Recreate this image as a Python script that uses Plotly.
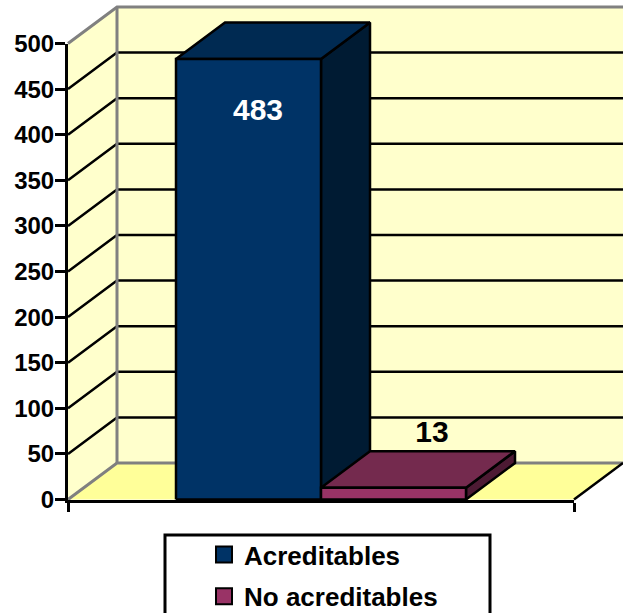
import plotly.graph_objects as go

# Data
categories = ["Acreditables", "No acreditables"]
values = [483, 13]
value_labels = ["483", "13"]
y_ticks = [0, 50, 100, 150, 200, 250, 300, 350, 400, 450, 500]

# Styling
W, H = 623, 613
PX_LEFT, PX_RIGHT, PX_ZERO, PX_TOP = 68, 574, 499.5, 43.5
sx = 1 / (PX_RIGHT - PX_LEFT)
sy = 500 / (PX_ZERO - PX_TOP)
DX = 49 * sx          # oblique depth, in axis units
DY = 36.5 * sy
BAR_START = 108 * sx
BAR_W = 145 * sx
front_colors = ["#003366", "#993366"]
top_colors = ["#002A52", "#742A4E"]
side_colors = ["#001B33", "#4D1A33"]
label_colors = ["white", "black"]
label_dx = [9.5 * sx, 38.5 * sx]
label_dy = [-58.5, 58.5]
FONT = "Liberation Sans"

fig = go.Figure()
xy = dict(xaxis="x", yaxis="y", hoverinfo="skip", showlegend=False)


def poly(xs, ys, fill, line="black", lw=2.5):
    fig.add_trace(go.Scatter(x=xs, y=ys, mode="lines", fill="toself", fillcolor=fill,
                             line=dict(color=line, width=lw), **xy))


def seg(xs, ys, color, lw):
    fig.add_trace(go.Scatter(x=xs, y=ys, mode="lines",
                             line=dict(color=color, width=lw), **xy))


ymax = y_ticks[-1]
# Walls and floor
poly([DX, 1 + DX, 1 + DX, DX, DX], [DY, DY, ymax + DY, ymax + DY, DY], "#FFFFCC", "#FFFFCC", 0)
poly([0, DX, DX, 0, 0], [0, DY, ymax + DY, ymax, 0], "#FFFFCC", "#FFFFCC", 0)
poly([0, 1, 1 + DX, DX, 0], [0, 0, DY, DY, 0], "#FFFF99", "#FFFF99", 0)

# Gridlines on the walls
for t in y_ticks[1:-1]:
    seg([0, DX, 1 + DX], [t, t + DY, t + DY], "black", 2.5)

# Wall edges
seg([0, DX, 1 + DX], [ymax, ymax + DY, ymax + DY], "#808080", 3)
seg([0, DX, 1 + DX], [0, DY, DY], "#808080", 3)
seg([DX, DX], [0 + DY, ymax + DY], "#808080", 3)
# Floor right edge
seg([1, 1 + DX], [0, DY], "black", 2.5)

# Bars
for i, v in enumerate(values):
    a = BAR_START + i * BAR_W
    b = a + BAR_W
    poly([b, b + DX, b + DX, b, b], [0, DY, v + DY, v, 0], side_colors[i])
    poly([a, b, b + DX, a + DX, a], [v, v, v + DY, v + DY, v], top_colors[i])
    poly([a, b, b, a, a], [0, 0, v, v, 0], front_colors[i])

# Value labels
for i, v in enumerate(values):
    a = BAR_START + i * BAR_W
    fig.add_trace(go.Scatter(
        x=[a + BAR_W / 2 + label_dx[i]], y=[v + label_dy[i]], mode="text",
        text=[value_labels[i]], textposition="middle center",
        textfont=dict(family=FONT, size=30, color=label_colors[i], weight="bold"), **xy))

# Axis subplot (drawn on top) with an empty trace
fig.add_trace(go.Scatter(x=[0, 1], y=[0, 500], mode="none", xaxis="x2", yaxis="y2",
                         hoverinfo="skip", showlegend=False))

# Legend entries
for i, name in enumerate(categories):
    fig.add_trace(go.Scatter(
        x=[None], y=[None], mode="markers", name=name, legendgroup=name,
        xaxis="x", yaxis="y",
        marker=dict(symbol="square", size=16, color=front_colors[i],
                    line=dict(color="black", width=2))))

fig.update_layout(
    width=W, height=H, margin=dict(l=0, r=0, t=0, b=0, autoexpand=False),
    paper_bgcolor="white", plot_bgcolor="rgba(0,0,0,0)",
    hovermode=False,
    xaxis=dict(domain=[0, 1], range=[-PX_LEFT * sx, (W - PX_LEFT) * sx], visible=False),
    yaxis=dict(domain=[0, 1], range=[-(H - PX_ZERO) * sy, PX_ZERO * sy], visible=False),
    xaxis2=dict(domain=[PX_LEFT / W, PX_RIGHT / W], range=[0, 1], anchor="y2",
                tickmode="array", tickvals=[0, 1], ticktext=["", ""], ticks="outside",
                ticklen=9, tickwidth=2.5, tickcolor="black", showgrid=False, zeroline=False,
                showline=True, linecolor="black", linewidth=3),
    yaxis2=dict(domain=[(H - PX_ZERO) / H, (H - PX_TOP) / H], range=[0, 500], anchor="x2",
                tickmode="array", tickvals=y_ticks, ticktext=[str(t) for t in y_ticks],
                ticks="outside", ticklen=10, tickwidth=2.5, tickcolor="black",
                ticklabelstandoff=-4,
                tickfont=dict(family=FONT, size=24, color="black", weight="bold"),
                showgrid=False, zeroline=False, showline=True, linecolor="black", linewidth=3),
    legend=dict(x=204 / W, xanchor="left", y=(H - 531) / H, yanchor="top",
                bgcolor="rgba(0,0,0,0)", borderwidth=0, traceorder="grouped",
                tracegroupgap=5, itemclick=False, itemdoubleclick=False,
                font=dict(family=FONT, size=26, color="black", weight="bold")),
    shapes=[dict(type="rect", xref="paper", yref="paper", x0=165 / W, x1=490 / W,
                 y0=-0.02, y1=(H - 535) / H, line=dict(color="black", width=3),
                 fillcolor="white", layer="above")],
)
fig.write_html("out.html", config={"displayModeBar": False},
               post_script="document.body.style.margin='0';document.body.style.overflow='hidden';")
